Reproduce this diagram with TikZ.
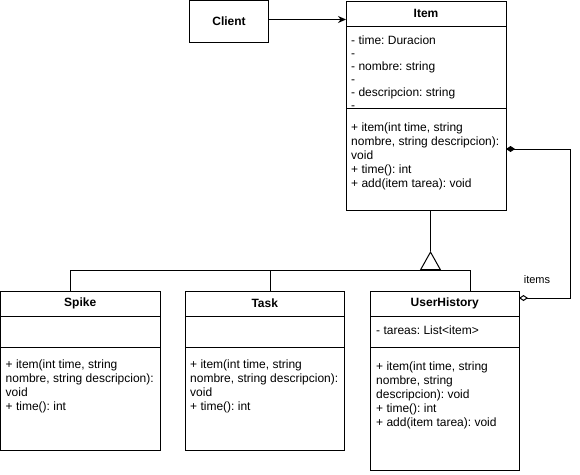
\documentclass[tikz,border=0pt]{standalone}
\usepackage{fontspec}
\setmainfont{Liberation Sans}
\usetikzlibrary{arrows.meta,positioning}
\frenchspacing

\tikzset{
    box/.style={draw, line width=1pt, inner sep=0pt, outer sep=0pt, anchor=north west},
    ttl/.style={font=\fontsize{12}{14}\selectfont\bfseries},
    member/.style={anchor=base west, inner sep=0pt},
    link/.style={line width=1pt}
}

\begin{document}
\begin{tikzpicture}[x=1pt, y=-1pt, font=\fontsize{12}{14}\selectfont]
    \useasboundingbox (0,0) rectangle (580,474);

    \node[box, ttl, minimum width=79, minimum height=42] (client) at (189.5,0.5) {Client};

    % Item
    \node[box, ttl, minimum width=160, minimum height=25] (itemH) at (346,1) {Item};
    \node[box, minimum width=160, minimum height=82, below=0pt of itemH] (itemA) {};
    \node[box, minimum width=160, minimum height=102, below=0pt of itemA] (itemM) {};
    \foreach \t [count=\i from 0] in {- time: Duracion, -, - nombre: string, -, - descripcion: string, -}
        \node[member] (itemA\i) at (351, 44+13*\i) {\t};
    \foreach \t [count=\i from 0] in {{+ item(int time, string}, {nombre, string descripcion):}, void, + time(): int, + add(item tarea): void}
        \node[member] (itemM\i) at (351, 131+14*\i) {\t};

    % Spike and Task
    \foreach \n/\x/\lbl in {spike/0.5/Spike, task/185/Task} {
        \node[box, ttl, minimum width=159.5, minimum height=25] (\n H) at (\x,291) {\lbl};
        \node[box, minimum width=159.5, minimum height=31, below=0pt of \n H] (\n A) {};
        \node[box, minimum width=159.5, minimum height=103, below=0pt of \n A] (\n M) {};
        \foreach \t [count=\i from 0] in {{+ item(int time, string}, {nombre, string descripcion):}, void, + time(): int}
            \node[member] (\n M\i) at (\x+5, 368+14*\i) {\t};
    }

    % UserHistory
    \node[box, ttl, minimum width=148.5, minimum height=25] (uhH) at (370.5,291) {UserHistory};
    \node[box, minimum width=148.5, minimum height=31, below=0pt of uhH] (uhA) {};
    \node[box, minimum width=148.5, minimum height=123, below=0pt of uhA] (uhM) {};
    \node[member] (uhA0) at (376, 334) {- tareas: List<item>};
    \foreach \t [count=\i from 0] in {{+ item(int time, string}, {nombre, string}, descripcion): void, + time(): int, + add(item tarea): void}
        \node[member] (uhM\i) at (376, 370+14*\i) {\t};

    % connectors
    \coordinate (useY) at (0,19.5);
    \draw[link, -{Stealth[length=8pt, width=7pt]}] (client.east |- useY) -- (itemH.west |- useY);

    \coordinate (inhJ) at (430.5,270);
    \coordinate (inhApex) at (430.5,251);
    \coordinate (spikeJ) at (70.5,270);
    \coordinate (taskJ) at (270,270);
    \coordinate (uhJ) at (470.5,270);
    \draw[link] (spikeH.north -| spikeJ) -- (spikeJ) -- (uhJ) -- (uhH.north -| uhJ)
        (taskH.north -| taskJ) -- (taskJ);
    \draw[link, -{Triangle[open, length=19pt, width=21pt]}] (inhJ) -- (inhApex);
    \draw[link] (inhApex) -- (itemM.south -| inhApex);

    \coordinate (aggTop) at (570.5,149);
    \coordinate (aggBot) at (570.5,298);
    \draw[link, {Diamond[length=9pt, width=6pt]}-{Diamond[open, length=9pt, width=6pt]}]
        (itemM.east |- aggTop) -- (aggTop) -- (aggBot) -- (uhH.east |- aggBot);
    \node[font=\fontsize{11}{13}\selectfont] (itemsLbl) at (537,280) {items};
\end{tikzpicture}
\end{document}
